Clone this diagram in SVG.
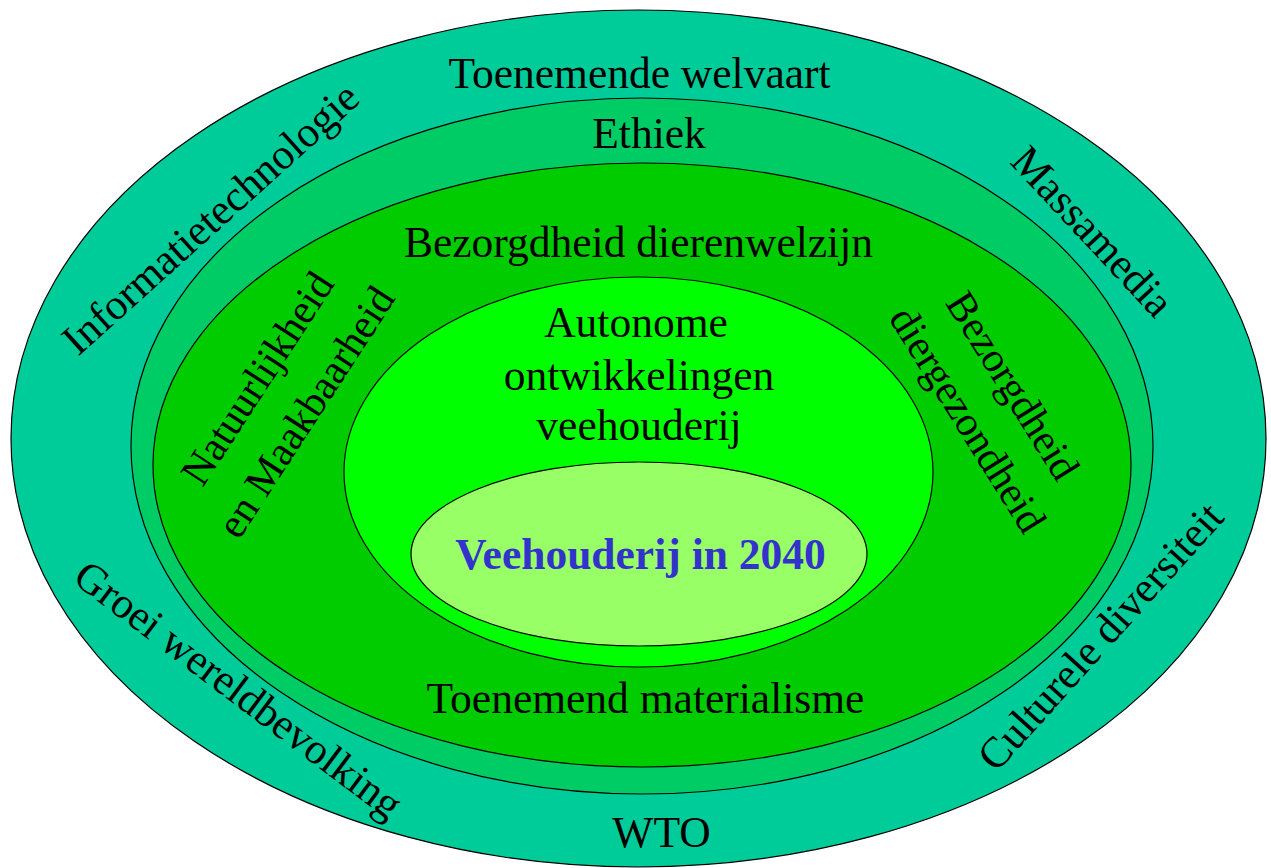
<svg xmlns="http://www.w3.org/2000/svg" width="1271" height="868" viewBox="0 0 1271 868">
<style>
.ring{stroke:#000;stroke-width:1.2}
.t{font-family:"Liberation Serif","Times New Roman",serif;font-size:43.5px;fill:#000;text-anchor:middle}
.r{font-family:"Liberation Serif","Times New Roman",serif;font-size:43px;fill:#000;text-anchor:middle}
.r2{font-family:"Liberation Serif","Times New Roman",serif;font-size:41.8px;fill:#000;text-anchor:middle}
.c{font-family:"Liberation Serif","Times New Roman",serif;font-size:43.5px;font-weight:bold;fill:#3333CC;text-anchor:middle}
</style>
<rect width="1271" height="868" fill="#fff"/>
<g id="ring-outer">
<ellipse class="ring" cx="638.5" cy="438.5" rx="627.5" ry="428.5" fill="#00CC99"/>
<text class="t" x="639.5" y="88">Toenemende welvaart</text>
<text class="r" transform="translate(220,229) rotate(-42)" x="0" y="0">Informatietechnologie</text>
<text class="r" transform="translate(1082,241) rotate(47)" x="0" y="0">Massamedia</text>
<text class="r" transform="translate(230,701) rotate(37)" x="0" y="0">Groei wereldbevolking</text>
<text class="r" transform="translate(1111,646) rotate(-48)" x="0" y="0">Culturele diversiteit</text>
<text class="t" x="661.5" y="847">WTO</text>
</g>
<g id="ring-ethiek">
<ellipse class="ring" cx="642" cy="446" rx="511" ry="348" fill="#00CC66"/>
<text class="t" x="649" y="148">Ethiek</text>
</g>
<g id="ring-bezorgdheid">
<ellipse class="ring" cx="642" cy="465" rx="489" ry="302" fill="#00CC00"/>
<text class="t" x="638.5" y="257">Bezorgdheid dierenwelzijn</text>
<text class="r2" transform="translate(269,386) rotate(-57)" x="0" y="0">Natuurlijkheid</text>
<text class="r2" transform="translate(317.5,419.5) rotate(-57)" x="0" y="0">en Maakbaarheid</text>
<text class="r2" transform="translate(1001,393) rotate(58)" x="0" y="0">Bezorgdheid</text>
<text class="r2" transform="translate(956,427) rotate(58)" x="0" y="0">diergezondheid</text>
<text class="t" x="645.5" y="713">Toenemend materialisme</text>
</g>
<g id="ring-autonome">
<ellipse class="ring" cx="638.5" cy="472" rx="294.5" ry="195" fill="#00FF00"/>
<text class="t" x="636" y="337">Autonome</text>
<text class="t" x="639" y="390">ontwikkelingen</text>
<text class="t" x="639" y="440">veehouderij</text>
</g>
<g id="core">
<ellipse class="ring" cx="639" cy="554" rx="228" ry="92" fill="#99FF66"/>
<text class="c" x="640.5" y="569">Veehouderij in 2040</text>
</g>
<g id="connectors"/>
</svg>
